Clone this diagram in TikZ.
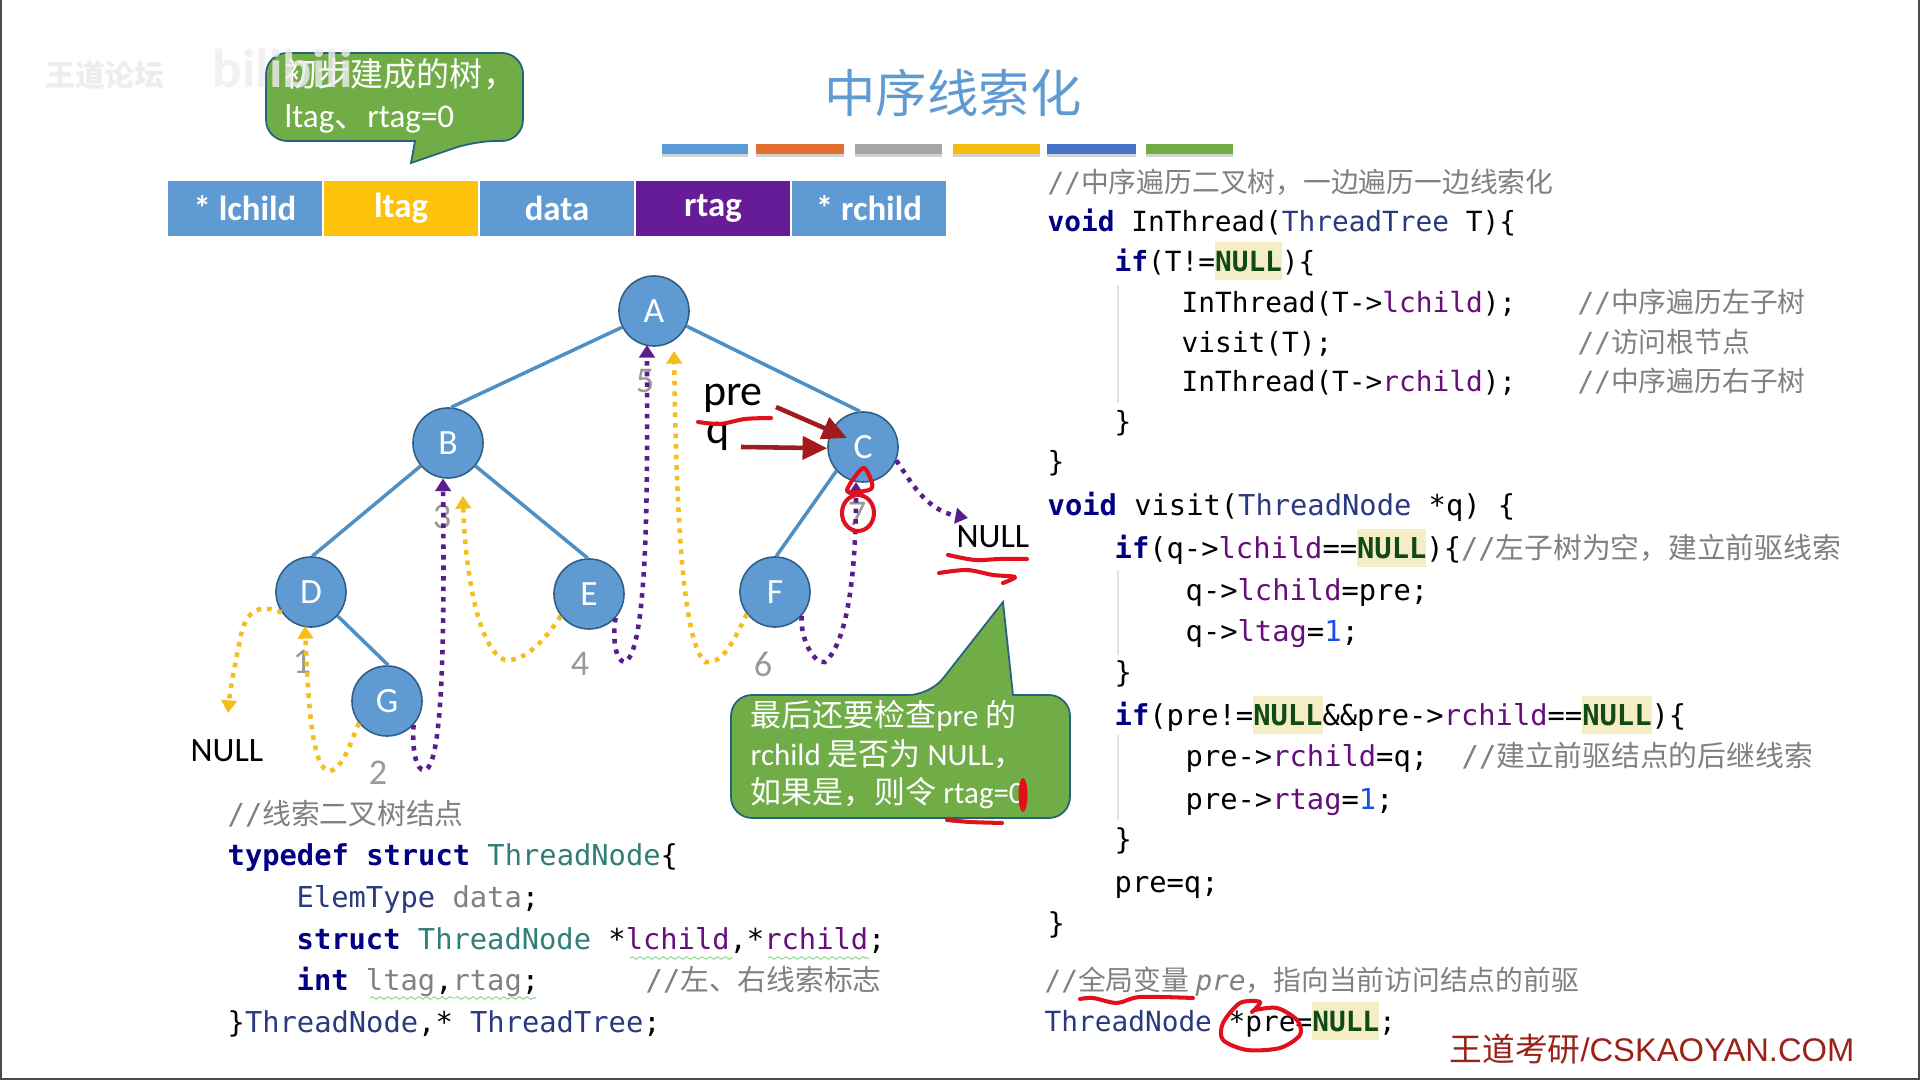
\documentclass[tikz,border=0pt]{standalone}
\usepackage{fontspec}
\setmainfont{Carlito}
\setmonofont{DejaVu Sans Mono}
\newfontfamily\cjk{Noto Sans CJK SC}
\newfontfamily\wmfont{Liberation Sans}
\usetikzlibrary{positioning, arrows.meta, decorations.pathmorphing}

% couleurs des cases, des fils et du code
\definecolor{cellblue}{HTML}{5F9BD2}
\definecolor{cellyellow}{HTML}{FCC30A}
\definecolor{cellpurple}{HTML}{661C96}
\definecolor{bubblegreen}{HTML}{70AD47}
\definecolor{bubbleline}{HTML}{26617F}
\definecolor{edgeblue}{HTML}{4F90C4}
\definecolor{noderim}{HTML}{2F5F85}
\definecolor{threadyellow}{HTML}{F4BE1E}
\definecolor{threadpurple}{HTML}{5A1E8C}
\definecolor{penred}{HTML}{E0101C}
\definecolor{arrowred}{HTML}{A31A1E}
\definecolor{kwcol}{HTML}{000080}
\definecolor{fldcol}{HTML}{660E7A}
\definecolor{typcol}{HTML}{2A3A80}
\definecolor{tealcol}{HTML}{2F7F78}
\definecolor{cmtcol}{HTML}{808080}
\definecolor{nullcol}{HTML}{0F4A18}
\definecolor{nullbg}{HTML}{F5EDC4}
\definecolor{numcol}{HTML}{1750EB}
\definecolor{brandred}{HTML}{9A2218}

% petites commandes pour colorer le code
\newcommand{\kw}[1]{\textcolor{kwcol}{\textbf{#1}}}
\newcommand{\fld}[1]{\textcolor{fldcol}{#1}}
\newcommand{\typ}[1]{\textcolor{typcol}{#1}}
\newcommand{\teal}[1]{\textcolor{tealcol}{#1}}
\newcommand{\cmt}[1]{\textcolor{cmtcol}{//{\cjk #1}}}
\newcommand{\nullhl}{{\setlength{\fboxsep}{0pt}\colorbox{nullbg}{\rule[-2.4pt]{0pt}{10.8pt}\textcolor{nullcol}{\textbf{NULL}}}}}
\newcommand{\num}[1]{\textcolor{numcol}{#1}}
\newcommand{\zh}[1]{{\cjk #1}}

\tikzset{
    cell/.style={minimum width=1.53cm, minimum height=0.55cm, inner sep=0pt, text=white, font=\fontsize{9.9}{11}\selectfont\bfseries},
    tnode/.style={circle, draw=noderim, line width=0.45pt, fill=cellblue, minimum size=0.7cm, inner sep=0pt, text=white, font=\fontsize{10.1}{12}\selectfont},
    edge/.style={edgeblue, line width=1pt},
    thread/.style={line width=1.3pt, dash pattern=on 1.3pt off 1.7pt, -{Triangle[length=3.6pt, width=4.4pt]}},
    ythread/.style={thread, threadyellow},
    pthread/.style={thread, threadpurple},
    numlabel/.style={text=gray!80, inner sep=0pt, font=\fontsize{10.3}{12}\selectfont},
    nulllabel/.style={inner sep=0pt, font=\fontsize{9.7}{12}\selectfont},
    code/.style={anchor=base west, inner sep=0pt, font=\ttfamily\fontsize{8.18}{10}\selectfont},
    codesmall/.style={anchor=base west, inner sep=0pt, font=\ttfamily\fontsize{7.9}{10}\selectfont},
    bubble/.style={fill=bubblegreen, draw=bubbleline, line width=0.5pt},
    bubbletext/.style={anchor=north west, inner sep=0pt, align=left, text=white},
    pen/.style={penred, line width=1.15pt, line cap=round, line join=round},
    redarrow/.style={arrowred, line width=1.3pt, -{Triangle[length=7pt, width=6.5pt]}},
    guide/.style={gray!22, line width=0.3pt},
    squiggle/.style={green!45!gray!60, line width=0.3pt, decorate, decoration={snake, amplitude=0.35pt, segment length=2.2pt}}
}

\begin{document}
\begin{tikzpicture}[x=0.01cm, y=-0.01cm]
    \useasboundingbox (0,0) rectangle (1920,1080);

    % Cadre sombre de la diapositive
    \draw[black!70, line width=0.6pt] (0.5,0) -- (0.5,1079) -- (1919.5,1079) -- (1919.5,0);

    % Titre et barres de couleur
    \node[text=cellblue, inner sep=0pt, font=\cjk\fontsize{14.6}{16}\selectfont] (title) at (953,93) {中序线索化};
    \foreach \col/\xa/\xb in {5B9BD5/662/748, E07030/756/844, A5A5A5/855/942, F5BC10/953/1040, 4472C4/1047/1136, 70AD47/1146/1233} {
        \definecolor{barcol}{HTML}{\col}
        \fill[gray!35] (\xa,147) rectangle (\xb,157);
        \fill[barcol] (\xa,144) rectangle (\xb,154);
    }

    % Structure du noeud
    \node[cell, fill=cellblue] (lchild) at (245,208.5) {* lchild};
    \node[cell, fill=cellyellow, right=0.015cm of lchild] (ltag) {ltag};
    \node[cell, fill=cellblue, right=0.015cm of ltag] (data) {data};
    \node[cell, fill=cellpurple, right=0.015cm of data] (rtag) {rtag};
    \node[cell, fill=cellblue, right=0.015cm of rtag] (rchild) {* rchild};

    % Premiere bulle
    \draw[bubble] (266,100) [rounded corners=6pt] -- (266,53) -- (523,53) -- (523,141) -- (475,141) [sharp corners] -- (411,163) -- (415,141) [rounded corners=6pt] -- (266,141) -- cycle;
    \node[bubbletext, font=\fontsize{9.4}{11.6}\selectfont] (bubbleone) at (284,58) {\zh{初步建成的树，}\\ltag\zh{、}rtag=0};

    % Les numeros de visite
    \foreach \n/\x/\y in {1/302/662, 2/378/773, 3/442/517, 4/580/664, 5/645/381, 6/763/664, 7/857/514} {
        \node[numlabel] (num\n) at (\x,\y) {\n};
    }

    % Les noeuds de l'arbre
    \node[tnode] (A) at (654,311) {A};
    \node[tnode] (B) at (448,443) {B};
    \node[tnode] (C) at (863,447) {C};
    \node[tnode] (D) at (311,592) {D};
    \node[tnode] (E) at (589,594) {E};
    \node[tnode] (F) at (775,592) {F};
    \node[tnode] (G) at (387,701) {G};

    % Les aretes
    \draw[edge] (A.207) -- (B.85);
    \draw[edge] (A.335) -- (C.95);
    \draw[edge] (B.220) -- (D.88);
    \draw[edge] (B.320) -- (E.92);
    \draw[edge] (C.222) -- (F.88);
    \draw[edge] (D.318) -- (G.88);

    % Les deux NULL
    \node[nulllabel] (nullleft) at (227,751) {NULL};
    \node[nulllabel] (nullright) at (993,537) {NULL};

    % Extremites libres des fils
    \coordinate (tipleft) at (228,713);
    \coordinate (tipd) at (305,626);
    \coordinate (tipb) at (463,496);
    \coordinate (tipa) at (647,345);
    \coordinate (tipaa) at (674,351);
    \coordinate (tipc) at (856,482);
    \coordinate (tipnull) at (968,518);

    % Les fils jaunes
    \draw[ythread] (D.215) .. controls (262,605) and (246,606) .. (240,640) .. controls (234,670) and (230,690) .. (tipleft);
    \draw[ythread] (G.218) .. controls (352,740) and (342,770) .. (330,771) .. controls (312,772) and (308,700) .. (tipd);
    \draw[ythread] (E.218) .. controls (545,640) and (525,662) .. (505,660) .. controls (478,650) and (465,570) .. (tipb);
    \draw[ythread] (F.218) .. controls (730,650) and (720,664) .. (705,662) .. controls (680,640) and (676,480) .. (tipaa);

    % Les fils violets
    \draw[pthread] (G.318) .. controls (412,745) and (415,772) .. (425,770) .. controls (445,765) and (444,600) .. (B.262);
    \draw[pthread] (E.318) .. controls (612,640) and (616,662) .. (625,662) .. controls (650,650) and (647,450) .. (tipa);
    \draw[pthread] (F.318) .. controls (800,640) and (815,665) .. (825,662) .. controls (850,640) and (856,560) .. (tipc);
    \draw[pthread] (C.338) .. controls (910,480) and (925,510) .. (tipnull);

    % Les pointeurs pre et q
    \node[inner sep=0pt, font=\fontsize{12.5}{14}\selectfont] (pre) at (733,398) {pre};
    \node[inner sep=0pt, font=\fontsize{12.5}{14}\selectfont] (qptr) at (718,436) {q};
    \coordinate (pretip) at (847,438);
    \draw[redarrow] (776,407) -- (pretip);
    \draw[redarrow] (741,447) -- (C.182);

    % Deuxieme bulle
    \draw[bubble] (731,750) [rounded corners=6pt] -- (731,695) -- (930,695) [sharp corners] -- (1003,602) -- (1013,695) [rounded corners=6pt] -- (1070,695) -- (1070,818) -- (731,818) -- cycle;
    \node[bubbletext, font=\fontsize{8.8}{10.95}\selectfont] (bubbletwo) at (750,700) {\zh{最后还要检查}pre \zh{的}\\rchild \zh{是否为} NULL\zh{，}\\\zh{如果是，则令} rtag=0};

    % Le code de la structure
    \node[code] (st1) at (227,825) {\cmt{线索二叉树结点}};
    \node[code] (st2) at (227,866) {\kw{typedef} \kw{struct} \teal{ThreadNode}\{};
    \node[code] (st3) at (296,908) {\typ{ElemType} \textcolor{cmtcol}{data};};
    \node[code] (st4) at (296,950) {\kw{struct} \teal{ThreadNode} *\fld{lchild},*\fld{rchild};};
    \node[code] (st5) at (296,991) {\kw{int} \textcolor{cmtcol}{ltag},\textcolor{cmtcol}{rtag};};
    \node[code] (st5c) at (645,991) {\cmt{左、右线索标志}};
    \node[code] (st6) at (227,1033) {\}\typ{ThreadNode},* \typ{ThreadTree};};

    % Fonction InThread
    \node[codesmall] (it1) at (1047,193) {\cmt{中序遍历二叉树，一边遍历一边线索化}};
    \node[codesmall] (it2) at (1047,232) {\kw{void} InThread(\typ{ThreadTree} T)\{};
    \node[codesmall] (it3) at (1114,272) {\kw{if}(T!=\nullhl)\{};
    \node[codesmall] (it4) at (1181,313) {InThread(T->\fld{lchild});};
    \node[codesmall] (it4c) at (1577,313) {\cmt{中序遍历左子树}};
    \node[codesmall] (it5) at (1181,353) {visit(T);};
    \node[codesmall] (it5c) at (1577,353) {\cmt{访问根节点}};
    \node[codesmall] (it6) at (1181,392) {InThread(T->\fld{rchild});};
    \node[codesmall] (it6c) at (1577,392) {\cmt{中序遍历右子树}};
    \node[codesmall] (it7) at (1114,432) {\}};
    \node[codesmall] (it8) at (1047,472) {\}};

    % Fonction visit
    \node[code] (vs1) at (1047,516) {\kw{void} visit(\typ{ThreadNode} *q) \{};
    \node[code] (vs2) at (1114,559) {\kw{if}(q->\fld{lchild}==\nullhl)\{\cmt{左子树为空，建立前驱线索}};
    \node[code] (vs3) at (1185,601) {q->\fld{lchild}=pre;};
    \node[code] (vs4) at (1185,642) {q->\fld{ltag}=\num{1};};
    \node[code] (vs5) at (1114,683) {\}};
    \node[code] (vs6) at (1114,726) {\kw{if}(pre!=\nullhl\&\&pre->\fld{rchild}==\nullhl)\{};
    \node[code] (vs7) at (1185,767) {pre->\fld{rchild}=q;};
    \node[code] (vs7c) at (1461,767) {\cmt{建立前驱结点的后继线索}};
    \node[code] (vs8) at (1185,810) {pre->\fld{rtag}=\num{1};};
    \node[code] (vs9) at (1114,850) {\}};
    \node[code] (vs10) at (1114,893) {pre=q;};
    \node[code] (vs11) at (1047,934) {\}};

    % Variable globale
    \node[codesmall] (gv1) at (1044,991) {\cmt{全局变量 {\ttfamily\itshape pre}，指向当前访问结点的前驱}};
    \node[codesmall] (gv2) at (1044,1032) {\typ{ThreadNode} *pre=\nullhl;};

    % Traits de guidage et soulignements ondules
    \draw[guide] (1118,285) -- (1118,403);
    \draw[guide] (1118,570) -- (1118,655);
    \draw[guide] (1118,735) -- (1118,820);
    \foreach \xa/\xb/\y in {630/732/958, 768/869/958, 370/454/998, 455/536/998} {
        \draw[squiggle] (\xa,\y) -- (\xb,\y);
    }

    % Marque en bas a droite
    \node[anchor=base west, inner sep=0pt, text=brandred, font=\wmfont\fontsize{9.3}{11}\selectfont] (brand) at (1449,1062) {\zh{王道考研}/CSKAOYAN.COM};

    % Traits rouges a main levee
    \draw[pen] plot[smooth] coordinates {(698,422) (720,424) (745,419) (771,418)};
    \draw[pen] plot[smooth cycle] coordinates {(847,491) (863,468) (872,483) (869,490)};
    \draw[pen] (858,513) ellipse (16 and 18);
    \draw[pen] plot[smooth] coordinates {(948,555) (975,560) (1000,559) (1027,559)};
    \draw[pen] plot[smooth] coordinates {(939,573) (967,570) (993,575) (1015,577) (1003,583)};
    \draw[pen] plot[smooth] coordinates {(947,820) (970,822) (1002,823)};
    \fill[penred] (1023,795) ellipse (4.5 and 17);
    \draw[pen] plot[smooth] coordinates {(1080,999) (1093,998) (1117,1003) (1140,997) (1193,998)};
    \draw[pen] plot[smooth] coordinates {(1252,1012) (1260,1002) (1240,1003) (1223,1023) (1223,1040) (1247,1050) (1280,1048) (1300,1035) (1297,1020) (1277,1008) (1255,1010)};

    % Filigrane du coin
    \node[inner sep=0pt, text=black!7, font=\cjk\bfseries\fontsize{8.5}{10}\selectfont] (wmtext) at (105,75) {王道论坛};
    \node[anchor=west, inner sep=0pt, text=black!7, text opacity=0.8, font=\bfseries\fontsize{15.6}{18}\selectfont] (wmlogo) at (212,68) {bilibili};
\end{tikzpicture}
\end{document}
